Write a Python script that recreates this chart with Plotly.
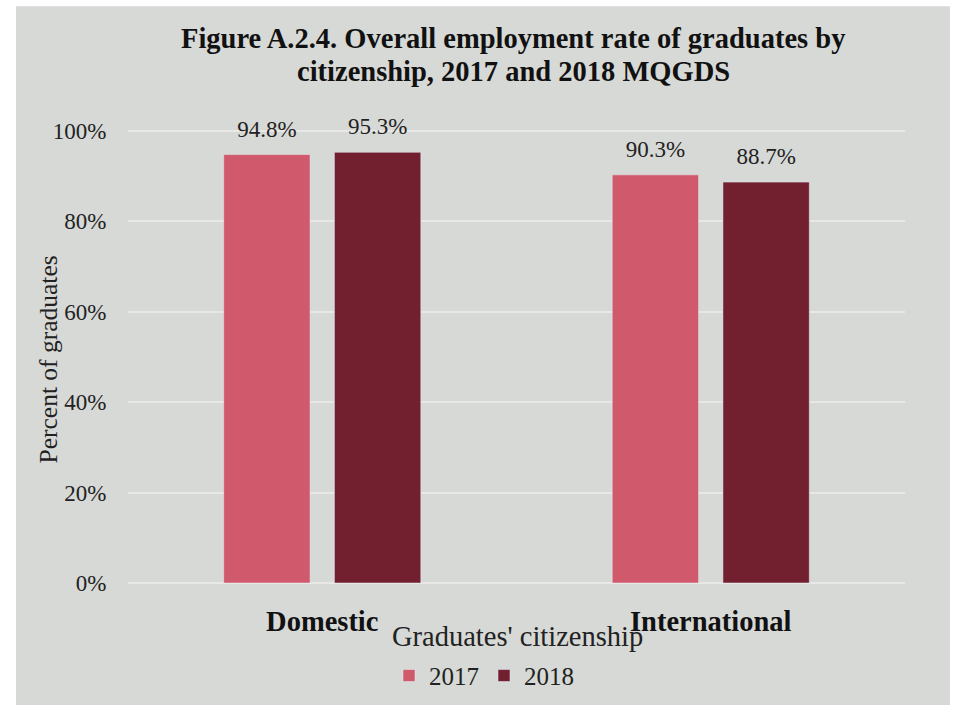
import plotly.graph_objects as go

categories = ["Domestic", "International"]
rate_2017 = [94.8, 90.3]
rate_2018 = [95.3, 88.7]
series_names = ["2017", "2018"]
y_ticks = [0, 20, 40, 60, 80, 100]
y_tick_labels = ["0%", "20%", "40%", "60%", "80%", "100%"]

C2017 = "#d05a6b"
C2018 = "#722030"
BG = "#d7d9d6"
GRID = "#e8e9e7"
FONT = "Liberation Serif, Times New Roman, serif"

# vertical compensation for capture scaling
SY = 711 / 705


def py(v):
    return v * SY


# plot area in pixels
W, H = 953, 711
L, R = 128, 905
T, B = py(128), py(583)
PW, PH = R - L, B - T
GAP = 0.43

fig = go.Figure()
for i, (name, vals, col) in enumerate([(series_names[0], rate_2017, C2017), (series_names[1], rate_2018, C2018)]):
    fig.add_trace(go.Bar(
        name=name, x=categories, y=vals, marker_color=col, offsetgroup=str(i),
        hoverinfo="skip",
    ))
for i, vals in enumerate([rate_2017, rate_2018]):
    fig.add_trace(go.Scatter(
        x=categories, y=vals, mode="markers+text", offsetgroup=str(i),
        text=[f"{v:.1f}%" for v in vals], textposition="top center",
        textfont=dict(size=23, color="#222222", family=FONT),
        marker=dict(size=18, color="rgba(0,0,0,0)"),
        showlegend=False, cliponaxis=False, hoverinfo="skip",
    ))

fig.update_layout(
    width=W, height=H,
    paper_bgcolor="white", plot_bgcolor=BG,
    barmode="group", bargap=GAP, bargroupgap=0.22,
    scattermode="group", scattergap=GAP,
    margin=dict(l=L, r=W - R, t=T, b=H - B),
    font=dict(family=FONT, color="#222222"),
    showlegend=True,
    legend=dict(orientation="h", x=(484 - L) / PW, xanchor="center", y=-(py(676) - B) / PH, yanchor="middle",
                font=dict(size=25, family=FONT, color="#222222"), bgcolor="rgba(0,0,0,0)",
                itemwidth=30),
    yaxis=dict(range=[0, 100.45], tickvals=y_ticks, ticktext=y_tick_labels,
               gridcolor=GRID, gridwidth=1.5, zeroline=True, zerolinecolor=GRID, zerolinewidth=1.5,
               showline=False, automargin=False,
               tickfont=dict(size=23, family=FONT, color="#222222"),
               ticks="outside", ticklen=16, tickcolor="rgba(0,0,0,0)"),
    xaxis=dict(showline=False, showgrid=False, automargin=False,
               tickfont=dict(size=28.5, family=FONT, color="#111111"),
               ticks="outside", ticklen=13, tickcolor="rgba(0,0,0,0)",
               tickvals=categories, ticktext=[f"<b>{c}</b>" for c in categories]),
    annotations=[
        dict(text="<b>Figure A.2.4. Overall employment rate of graduates by</b>",
             x=(513 - L) / PW, xref="paper", xanchor="center", y=(B - py(37)) / PH, yref="paper", yanchor="middle",
             showarrow=False, font=dict(size=28.5, family=FONT, color="#111111")),
        dict(text="<b>citizenship, 2017 and 2018 MQGDS</b>",
             x=(513 - L) / PW, xref="paper", xanchor="center", y=(B - py(70)) / PH, yref="paper", yanchor="middle",
             showarrow=False, font=dict(size=28.5, family=FONT, color="#111111")),
        dict(text="Graduates' citizenship", x=(517 - L) / PW, xref="paper", y=-(py(637) - B) / PH, yref="paper",
             yanchor="middle", showarrow=False,
             font=dict(size=28.5, family=FONT, color="#222222")),
        dict(text="Percent of graduates", x=(48 - L) / PW, xref="paper", xanchor="center",
             y=(B - py(359)) / PH, yref="paper", yanchor="middle", textangle=-90, showarrow=False,
             font=dict(size=25.5, family=FONT, color="#222222")),
    ],
    shapes=[dict(type="rect", xref="paper", yref="paper", layer="below",
                 x0=(16 - L) / PW, x1=(950 - L) / PW,
                 y0=-(H + 20 - B) / PH, y1=(B - py(5)) / PH,
                 fillcolor=BG, line=dict(width=0))],
)

fig.write_html(
    "out.html",
    config={"displayModeBar": False},
    post_script=(
        "document.body.style.margin='0';"
        "document.body.style.overflow='hidden';"
        "document.documentElement.style.overflow='hidden';"
    ),
)
